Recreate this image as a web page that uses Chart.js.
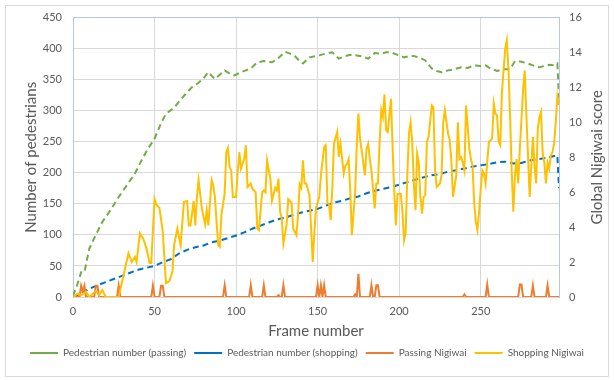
<!DOCTYPE html>
<html>
<head>
<meta charset="utf-8">
<script src="https://cdn.jsdelivr.net/npm/chart.js@4"></script>
<style>
  body { margin: 0; background: #fff; }
  #wrap { position: relative; width: 614px; height: 380px; }
  #frame { position: absolute; left: 5px; top: 5px; width: 602px; height: 370px;
           border: 1px solid #d9d9d9; pointer-events: none; }
</style>
</head>
<body>
<div id="wrap">
  <canvas id="chart" width="614" height="380"></canvas>
  <div id="frame"></div>
</div>
<script>
// series labels
const seriesNames = ['Pedestrian number (passing)', 'Pedestrian number (shopping)', 'Passing Nigiwai', 'Shopping Nigiwai'];
// x tick labels
const frameTicks = [0, 50, 100, 150, 200, 250];

// pedestrian number (passing) - left axis
const passFrames = [0,2,5,7,10, 14,18,23,28,33, 38,42,46,50,54, 57,62,66,69,73,
  77,80,83,87,90, 93,96,99,103,106, 109,113,117,122,126, 130,133,136,139,141,
  145,149,152,155,159, 163,167,170,174,178, 181,185,189,192,195, 199,203,206,209,213,
  216,220,223,226,230, 234,238,242,246,250, 253,256,260,264,268, 271,275,279,283,286,
  289,292,295,297,298];
const passPeds = [2,15,40,40,78, 100,121,140,161,180, 199,220,239,255,280, 295,305,318,327,338,
  345,352,362,351,358, 365,360,357,362,365, 368,378,380,378,385, 395,392,388,380,376,
  386,388,390,392,394, 384,388,390,389,387, 384,393,392,394,394, 390,386,388,388,385,
  381,368,364,362,365, 367,370,369,373,372, 373,368,364,367,367, 380,379,376,372,370,
  372,374,373,376,320];

// pedestrian number (shopping) - left axis
const shopFrames = [0,5,10,15,20,25,30,35,40,45, 50,55,60,65,70,75,80,85,90,95,
  100,105,110,115,120,125,130,135,140,145, 150,155,160,165,170,175,180,185,190,195,
  200,205,210,215,220,225,230,235,240,245, 250,255,260,265,270,275,280,285,290,295,
  297,298];
const shopPeds = [0,6,13,19,24,29,34,39,44,47, 50,56,61,70,76,80,83,88,91,95,
  99,104,110,115,120,125,128,132,136,139, 142,147,152,155,159,162,167,171,174,177,
  181,185,189,193,196,198,202,204,207,210, 212,214,217,218,215,216,220,222,224,227,
  228,175];

// passing nigiwai - right axis
const passNigFrames = [0,4,5,6,7,8,13,14,15,16, 27,28,29,48,49,50,53,54,55,56,
  92,93,94,108,109,110,116,117,118,125, 126,127,128,129,130,149,150,151,152,153,
  154,155,172,173,174,175,176,182,183,184, 185,186,187,188,239,240,241,253,254,255,
  273,274,275,276,281,282,283,290,291,292, 298];
const passNigiwai = [0,0,0.65,0.3,0.65,0,0,0.65,0.65,0, 0,0.65,0,0,0.65,0,0,0.65,0.65,0,
  0,0.67,0,0,0.67,0,0,0.67,0,0, 0.1,0,0,0.67,0,0,0.67,0,0.67,0,
  0.67,0,0,0.15,0,1.33,0,0,0.67,0, 0,0.67,0.67,0,0,0.15,0,0,0.72,0,
  0,0.72,0.72,0,0,0.65,0,0,0.65,0, 0];

// shopping nigiwai - right axis
const shopNigFrames = [0,3,5,8,10,14,16,18,20,28,
  31,34,36,38,39,41,43,45,47,48,
  50,51,53,55,57,59,61,62,64,66,
  68,70,71,72,74,75,76,77,79,80,
  81,82,83,85,86,87,89,90,91,93,
  94,95,96,97,98,100,101,102,103,105,
  106,107,109,110,112,113,114,116,117,118,
  119,121,122,124,125,126,127,128,129,131,
  132,134,135,137,138,139,140,141,142,143,
  145,146,147,148,149,151,152,154,155,156,
  157,158,159,160,162,163,164,166,167,168,
  169,170,171,173,174,175,176,178,179,180,
  181,182,183,185,186,187,188,189,190,191,
  192,193,195,196,197,198,199,201,202,203,
  204,205,206,207,208,209,210,211,212,213,
  214,215,216,217,218,220,221,222,223,225,
  226,227,228,230,231,232,233,235,236,237,
  238,239,240,241,242,243,244,245,246,247,
  248,249,250,251,252,253,254,255,257,258,
  259,260,261,262,263,265,266,267,268,269,
  270,271,272,273,274,276,277,278,279,280,
  281,282,283,284,285,286,287,288,289,290,
  291,292,293,294,295,296,297,298];
const shopNigiwai = [0,0.2,0.1,0.3,0,0.35,0.1,0.4,0,0,
  1.26,2.5,2.0,2.3,2.0,3.64,3.35,2.8,1.93,1.95,
  5.6,5.3,5.1,3.8,0.8,0.9,1.45,2.97,3.92,2.97,
  5.45,5.5,4.1,4.1,5.5,4.1,5.73,6.7,5.07,4.6,
  4.16,4.97,4.1,6.7,6.4,5.73,2.97,2.87,4.69,5.93,
  8.3,8.53,7.45,7.25,5.73,5.73,7.16,8.3,7.35,7.93,
  8.69,6.3,6.5,6.2,6.0,3.92,3.83,6.0,6.1,6.0,
  7.83,6.78,5.5,6.25,6.1,6.78,4.88,4.5,3.07,4.16,
  5.6,5.4,3.92,3.54,4.69,6.45,6.25,7.83,6.5,6.5,
  5.83,3.92,2.0,3.73,5.07,5.73,6.97,8.59,8.69,5.4,
  5.3,4.4,6.2,8.78,9.45,8.02,8.78,7.07,7.5,7.6,
  7.9,6.1,3.54,6.0,8.69,10.5,9.07,7.7,6.97,8.5,
  8.78,7.9,7.25,5.07,6.5,6.5,8.88,10.7,10.3,11.6,
  9.54,9.45,11.35,8.5,6.0,4.1,5.9,5.9,4.88,3.26,
  3.73,6.97,9.35,10.0,8.88,6.5,4.97,8.21,7.7,5.73,
  4.78,5.73,5.83,8.88,9.16,10.97,10.88,7.25,6.3,6.5,
  6.97,10.0,10.7,9.35,9.0,7.8,5.73,6.97,10.0,7.9,
  8.0,7.7,7.25,10.97,9.8,8.5,7.9,7.5,5.4,4.3,
  3.83,4.88,6.2,7.25,7.07,6.5,7.7,8.88,9.07,11.07,
  10.5,10.4,8.88,8.7,11.73,14.2,14.7,13.07,10.4,7.16,
  4.88,6.97,7.9,6.5,8.5,11.9,12.97,10.4,8.1,5.73,
  7.5,9.16,7.5,6.5,9.64,10.3,10.6,8.2,7.7,6.5,
  7.7,7.35,8.1,8.3,8.78,10.0,11.5,11.0];

const pts = (xs, ys) => xs.map((x, i) => ({ x: x, y: ys[i] }));

const FONT = 'Lato';
const GREY = '#595959';
const GRID = '#d9d9d9';
const EDGE = '#b4c7e7';

// right axis title reads bottom-to-top like the left one
const rightTitle = {
  id: 'rightTitle',
  afterDraw(chart) {
    const { ctx, chartArea } = chart;
    ctx.save();
    ctx.translate(597, (chartArea.top + chartArea.bottom) / 2);
    ctx.rotate(-Math.PI / 2);
    ctx.font = '15px ' + FONT;
    ctx.fillStyle = GREY;
    ctx.textAlign = 'center';
    ctx.textBaseline = 'middle';
    ctx.fillText('Global Nigiwai score', 0, 0);
    ctx.restore();
  }
};

const chart = new Chart(document.getElementById('chart'), {
  type: 'line',
  data: {
    datasets: [
      { label: seriesNames[0], data: pts(passFrames, passPeds), yAxisID: 'y',
        borderColor: '#70ad47', backgroundColor: '#70ad47', borderWidth: 2,
        borderDash: [6, 4], pointRadius: 0, order: 4 },
      { label: seriesNames[1], data: pts(shopFrames, shopPeds), yAxisID: 'y',
        borderColor: '#0070c0', backgroundColor: '#0070c0', borderWidth: 2,
        borderDash: [6, 4], pointRadius: 0, order: 3 },
      { label: seriesNames[2], data: pts(passNigFrames, passNigiwai), yAxisID: 'y2',
        borderColor: '#ed7d31', backgroundColor: '#ed7d31', borderWidth: 2,
        pointRadius: 0, order: 2 },
      { label: seriesNames[3], data: pts(shopNigFrames, shopNigiwai), yAxisID: 'y2',
        borderColor: '#ffc000', backgroundColor: '#ffc000', borderWidth: 2,
        pointRadius: 0, order: 1 }
    ]
  },
  options: {
    responsive: false,
    animation: false,
    layout: { padding: { top: 16, left: 0, right: 0, bottom: 12 } },
    plugins: {
      tooltip: { enabled: false },
      legend: {
        position: 'bottom',
        labels: {
          usePointStyle: true,
          pointStyle: 'line',
          pointStyleWidth: 28,
          color: GREY,
          font: { family: FONT, size: 10 },
          padding: 8,
          sort: (a, b) => a.datasetIndex - b.datasetIndex
        }
      }
    },
    scales: {
      x: {
        type: 'linear',
        min: 0,
        max: 298,
        afterBuildTicks: s => { s.ticks = frameTicks.map(v => ({ value: v })); },
        ticks: { color: GREY, font: { family: FONT, size: 11 }, padding: 8 },
        grid: { color: GRID, drawTicks: false },
        border: { color: GRID },
        title: { display: true, text: 'Frame number', color: GREY, font: { family: FONT, size: 15 }, padding: { top: 2, bottom: 0 } },
        afterFit: s => { s.height = 43; }
      },
      y: {
        position: 'left',
        min: 0,
        max: 450,
        ticks: { stepSize: 50, color: GREY, font: { family: FONT, size: 11 }, padding: 11 },
        grid: { color: c => c.tick && c.tick.value === 450 ? EDGE : GRID, drawTicks: false },
        border: { color: EDGE },
        title: { display: true, text: 'Number of pedestrians', color: GREY, font: { family: FONT, size: 15 }, padding: { top: 22, bottom: 0 } },
        afterFit: s => { s.width = 73; }
      },
      y2: {
        position: 'right',
        min: 0,
        max: 16,
        ticks: { stepSize: 2, color: GREY, font: { family: FONT, size: 11 }, padding: 10 },
        grid: { drawOnChartArea: false, drawTicks: false },
        border: { color: EDGE },
        afterFit: s => { s.width = 55; }
      }
    }
  },
  plugins: [rightTitle]
});
</script>
</body>
</html>
